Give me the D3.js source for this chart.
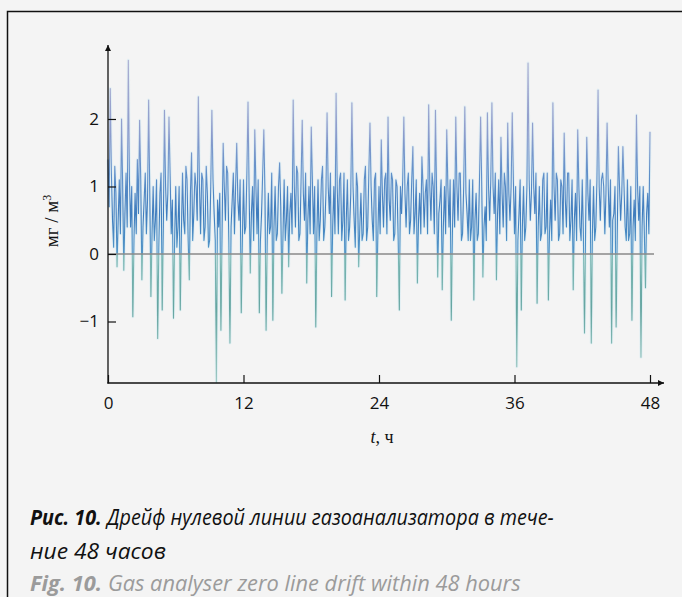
<!DOCTYPE html>
<html><head><meta charset="utf-8">
<script src="https://cdn.jsdelivr.net/npm/d3@7"></script>
<style>
html,body{margin:0;padding:0;background:#f4f4f4;}
svg{display:block;}
</style></head>
<body>
<script>
// ---- data ----
const hourTicks = [0, 12, 24, 36, 48];
const valueTicks = [-1, 0, 1, 2];
const sampleStepHours = 0.1; // readings every 0.1 h
// readings at 0.0, 0.2, 0.4 ... 48.0 h
const driftEven = [
 1.4, 2.45, 0.5, 1.3, -0.19, 1.1, 2.0, -0.24, 1.2, 2.87,
 0.4, -0.93, 0.9, 1.4, 1.98, -0.38, 0.8, 0.3, 2.28, -0.63,
 1.0, 0.5, -1.25, 0.9, -0.83, 2.13, 0.5, 2.03, 0.3, -0.95,
 1.0, 0.4, -0.83, 1.2, 0.3, 1.1, -0.38, 1.5, 0.6, 1.0,
 2.33, 0.3, 1.1, 0.4, 0.9, 0.2, 2.13, 0.6, -1.9, 0.4,
 -1.13, 1.64, 0.5, 1.2, -1.32, 0.8, 0.3, 1.64, 0.5, -0.87,
 1.1, 0.4, 2.25, -0.28, 1.0, 1.84, 0.3, -0.87, 0.6, 1.84,
 -1.13, 0.9, 0.4, -0.98, 1.0, 0.3, 1.35, -0.58, 1.1, 0.5,
 -0.19, 0.9, 2.28, 0.4, 1.2, 0.3, 1.98, 0.5, -0.43, 1.0,
 1.88, 0.3, -1.08, 1.1, 0.5, 1.3, 0.4, 2.09, 0.6, -0.63,
 1.0, 2.38, 0.3, 1.2, 0.5, -0.68, 1.1, 0.4, 2.24, 0.5,
 1.2, -0.19, 0.9, 0.3, 1.3, 0.4, 1.94, 0.5, 1.1, -0.63,
 1.0, 1.69, 0.4, 1.2, 2.03, 0.5, 1.1, 0.3, 1.0, -0.83,
 0.6, 2.03, 0.4, 1.2, 0.5, 1.59, 0.6, -0.43, 0.9, 1.44,
 0.4, 1.1, 2.21, 0.5, 1.0, 2.13, -0.34, 0.8, -0.53, 1.0,
 1.84, 0.4, -0.98, 1.1, 2.03, 0.5, 1.2, 0.3, 2.18, 0.6,
 1.1, 0.4, -0.68, 0.9, 0.3, 2.03, -0.34, 0.7, 2.09, 0.5,
 2.24, 0.6, -0.38, 1.1, 1.73, 0.4, 1.0, 1.94, 0.5, 2.09,
 0.3, -1.67, 0.6, -0.83, 1.0, 0.4, 2.83, 0.5, 1.94, 0.6,
 -0.73, 1.0, 0.3, 1.2, 0.4, -0.68, 0.8, 2.24, 0.5, 1.1,
 0.3, 1.0, 1.79, 0.4, 1.2, 0.5, -0.53, 0.9, 1.84, 0.4,
 1.1, -1.17, 1.73, 0.5, -1.32, 1.0, 0.4, 2.43, 0.5, 1.2,
 0.3, 1.94, 0.4, -1.32, 0.6, -1.08, 1.59, 0.5, 1.59, 0.4,
 1.1, 0.3, -0.98, 0.8, 2.06, 0.5, -1.53, 1.0, -0.5, 0.9,
 1.81
];
// readings at 0.1, 0.3, 0.5 ... 47.9 h
const driftOdd = [
 0.7, 1.2, 0.1, 0.9, 0.5, 0.3, 1.0, 0.6, 0.4, 1.1,
 1.0, 0.2, 0.3, 0.6, 1.1, 0.4, 1.2, 0.8, 0.9, 0.3,
 0.2, 1.1, 0.1, 1.2, 0.4, 1.0, 0.9, 1.2, 0.8, 0.2,
 0.1, 1.0, 0.3, 0.5, 1.3, 0.2, 0.9, 0.2, 1.2, 0.5,
 1.0, 1.2, 0.2, 1.3, 0.1, 1.0, 1.1, 0.2, 0.8, 0.9,
 0.3, 1.0, 1.3, 0.2, 0.4, 1.2, 1.0, 0.8, 1.1, 0.2,
 0.3, 1.2, 0.9, 0.6, 0.2, 1.0, 1.1, 0.2, 1.2, 0.9,
 0.2, 0.3, 1.2, 0.4, 0.2, 1.0, 0.7, 0.3, 0.2, 1.0,
 0.6, 0.3, 1.0, 1.3, 0.2, 1.1, 0.9, 1.2, 0.5, 0.3,
 1.1, 1.0, 0.3, 0.2, 1.1, 0.2, 0.9, 1.0, 1.2, 0.4,
 0.3, 1.0, 1.1, 0.2, 1.2, 0.5, 0.2, 0.9, 1.0, 0.1,
 1.0, 0.4, 0.2, 1.1, 0.2, 1.2, 1.0, 0.2, 1.2, 0.3,
 0.3, 0.9, 1.1, 0.3, 0.8, 1.2, 0.2, 1.1, 0.2, 1.0,
 1.1, 0.9, 1.0, 0.3, 1.1, 0.3, 1.1, 0.5, 0.3, 1.0,
 0.9, 0.3, 1.0, 1.2, 0.3, 0.9, 0.6, 1.1, 0.4, 0.3,
 1.0, 1.1, 0.3, 0.4, 1.0, 1.2, 0.2, 1.0, 0.9, 0.2,
 0.2, 1.1, 0.5, 0.2, 1.1, 1.0, 0.4, 0.2, 1.0, 1.1,
 1.0, 1.2, 0.6, 0.3, 0.9, 1.2, 0.2, 0.9, 1.0, 1.1,
 1.0, 0.2, 1.1, 0.4, 0.2, 1.0, 1.1, 0.9, 1.0, 1.2,
 0.4, 0.2, 1.1, 0.3, 1.2, 0.3, 0.2, 1.0, 1.2, 0.2,
 1.1, 0.3, 0.8, 1.2, 0.2, 1.1, 0.5, 0.2, 1.0, 0.2,
 0.3, 0.4, 0.9, 1.1, 0.3, 0.2, 1.1, 1.0, 1.1, 1.0,
 0.9, 1.0, 1.1, 0.5, 1.0, 0.3, 1.0, 0.9, 1.0, 0.2,
 0.2, 1.0, 0.4, 0.2, 1.0, 1.0, 0.4, 0.3, 0.6, 0.3
];
const yLabel = "мг / м";
const xLabelVar = "t";
const xLabelUnit = ", ч";
const captionRuBold = "Рис. 10.";
const captionRuLine1 = "Дрейф нулевой линии газоанализатора в тече-";
const captionRuLine2 = "ние 48 часов";
const captionEnBold = "Fig. 10.";
const captionEn = "Gas analyser zero line drift within 48 hours";

// ---- drawing ----
const W = 682, H = 597;
const svg = d3.select("body").append("svg").attr("width", W).attr("height", H);
svg.append("rect").attr("width", W).attr("height", H).attr("fill", "#f4f4f4");
svg.append("path").attr("d", "M7.5,597 V11.5 H682").attr("fill", "none")
  .attr("stroke", "#111").attr("stroke-width", 1.5);

const x = d3.scaleLinear().domain([0, 48]).range([108, 650]);
const y = d3.scaleLinear().domain([-1.911, 3.096]).range([383, 45]);

const defs = svg.append("defs");
const grad = defs.append("linearGradient").attr("id", "sig")
  .attr("gradientUnits", "userSpaceOnUse")
  .attr("x1", 0).attr("x2", 0).attr("y1", y(3)).attr("y2", y(-1.9));
[[3, "#a6a3ca"], [1.8, "#7f8ec6"], [1.2, "#4a7fc2"], [0.6, "#2368b4"], [0.02, "#3a86c0"],
 [-0.02, "#6aaeaa"], [-0.8, "#4e9892"], [-1.9, "#8fc0b8"]].forEach(([v, c]) => {
  const off = (y(v) - y(3)) / (y(-1.9) - y(3));
  grad.append("stop").attr("offset", off).attr("stop-color", c);
});
defs.append("filter").attr("id", "soft").attr("x", "-5%").attr("y", "-5%").attr("width", "110%").attr("height", "110%")
  .append("feGaussianBlur").attr("stdDeviation", 0.4);

const pts = [];
driftEven.forEach((v, i) => {
  pts.push([2 * i * sampleStepHours, v]);
  if (i < driftOdd.length) pts.push([(2 * i + 1) * sampleStepHours, driftOdd[i]]);
});
const line = d3.line().x(d => x(d[0])).y(d => y(d[1]));

const g = svg.append("g").attr("filter", "url(#soft)");
g.append("path").datum(pts).attr("d", line).attr("fill", "none")
  .attr("stroke", "#d2ecf4").attr("stroke-width", 3).attr("stroke-opacity", 0.5)
  .attr("stroke-linejoin", "round");
g.append("path").datum(pts).attr("d", line).attr("fill", "none")
  .attr("stroke", "url(#sig)").attr("stroke-width", 1.1).attr("stroke-opacity", 0.85)
  .attr("stroke-linejoin", "round");

// zero line
svg.append("line").attr("x1", x(0)).attr("x2", x(48) + 4).attr("y1", y(0)).attr("y2", y(0))
  .attr("stroke", "#8a8a8a").attr("stroke-width", 1.3);

// axes
const yAxis = d3.axisLeft(y).tickValues(valueTicks).tickSizeInner(-8).tickSizeOuter(0).tickPadding(9)
  .tickFormat(d3.format("d"));
const gy = svg.append("g").attr("transform", `translate(${x(0)},0)`).call(yAxis);
const xAxis = d3.axisBottom(x).tickValues(hourTicks).tickSizeInner(-8).tickSizeOuter(0).tickPadding(14);
const gx = svg.append("g").attr("transform", `translate(0,${y.range()[0]})`).call(xAxis);
[gx, gy].forEach(a => {
  a.select(".domain").remove();
  a.selectAll(".tick line").attr("stroke", "#111").attr("stroke-width", 1.2);
  a.selectAll(".tick text").attr("fill", "#111").style("font-family", "'Open Sans', sans-serif").style("font-size", "17px");
});

defs.append("marker").attr("id", "arr").attr("viewBox", "0 0 10 10").attr("refX", 10).attr("refY", 5)
  .attr("markerWidth", 6).attr("markerHeight", 6).attr("markerUnits", "userSpaceOnUse").attr("orient", "auto")
  .append("path").attr("d", "M0,0 L10,5 L0,10 Z").attr("fill", "#111");
svg.append("line").attr("x1", x(0)).attr("x2", x(0)).attr("y1", y.range()[0] + 0.6).attr("y2", y.range()[1])
  .attr("stroke", "#111").attr("stroke-width", 1.3).attr("marker-end", "url(#arr)");
svg.append("line").attr("x1", x(0) - 0.6).attr("x2", 664).attr("y1", y.range()[0]).attr("y2", y.range()[0])
  .attr("stroke", "#111").attr("stroke-width", 1.3).attr("marker-end", "url(#arr)");

// axis titles
const yt = svg.append("text").attr("transform", "translate(58,221) rotate(-90)")
  .attr("text-anchor", "middle").attr("fill", "#111")
  .style("font-family", "'Liberation Serif', 'DejaVu Serif', serif").style("font-size", "19px");
yt.append("tspan").text(yLabel);
yt.append("tspan").attr("dy", -7).style("font-size", "12px").text("3");

const xt = svg.append("text").attr("x", 382).attr("y", 443).attr("text-anchor", "middle").attr("fill", "#111")
  .style("font-family", "'Liberation Serif', 'DejaVu Serif', serif").style("font-size", "18px");
xt.append("tspan").style("font-style", "italic").text(xLabelVar);
xt.append("tspan").text(xLabelUnit);

// captions (condensed by horizontal scaling to the reference line widths)
const capFont = "'Open Sans', 'Noto Sans', sans-serif";
function makeCap(txt, bold, color) {
  return svg.append("text").attr("fill", color)
    .style("font-family", capFont).style("font-size", "22px").style("font-style", "italic")
    .style("font-weight", bold ? 700 : 500).text(txt);
}
const wOf = t => t.node().getComputedTextLength();
function placeLine(bold, rest, x0, x1, yb) {
  const gap = 6;
  const s = (x1 - x0) / ((bold ? wOf(bold) + gap : 0) + wOf(rest));
  let xx = x0;
  if (bold) {
    bold.attr("transform", `translate(${xx},${yb}) scale(${s},1)`);
    xx += s * (wOf(bold) + gap);
  }
  rest.attr("transform", `translate(${xx},${yb}) scale(${s},1)`);
}
placeLine(makeCap(captionRuBold, true, "#111"), makeCap(captionRuLine1, false, "#111"), 30, 554, 525);
placeLine(null, makeCap(captionRuLine2, false, "#111"), 30, 166, 559);
placeLine(makeCap(captionEnBold, true, "#9b9b9b"), makeCap(captionEn, false, "#9b9b9b"), 30, 521, 591);
</script>
</body></html>
